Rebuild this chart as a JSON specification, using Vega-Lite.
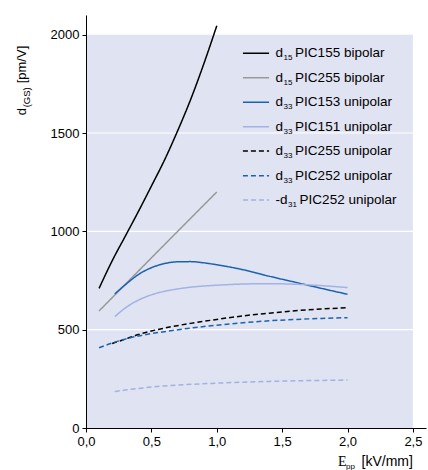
{
  "$schema": "https://vega.github.io/schema/vega-lite/v6.json",
  "width": 340,
  "height": 413,
  "autosize": {"type": "none"},
  "padding": {"left": 86, "top": 15, "right": 2, "bottom": 42},
  "background": "#ffffff",
  "config": {
    "view": {"stroke": null},
    "font": "Liberation Sans",
    "text": {"font": "Liberation Sans", "color": "#000000"}
  },
  "datasets": {
    "curves": [
      {"series": "d15 PIC155 bipolar", "x": 0.1, "y": 710},
      {"series": "d15 PIC155 bipolar", "x": 0.2, "y": 850},
      {"series": "d15 PIC155 bipolar", "x": 0.3, "y": 975},
      {"series": "d15 PIC155 bipolar", "x": 0.4, "y": 1100},
      {"series": "d15 PIC155 bipolar", "x": 0.5, "y": 1230},
      {"series": "d15 PIC155 bipolar", "x": 0.6, "y": 1362},
      {"series": "d15 PIC155 bipolar", "x": 0.7, "y": 1510},
      {"series": "d15 PIC155 bipolar", "x": 0.8, "y": 1670},
      {"series": "d15 PIC155 bipolar", "x": 0.9, "y": 1850},
      {"series": "d15 PIC155 bipolar", "x": 1.0, "y": 2045},

      {"series": "d15 PIC255 bipolar", "x": 0.1, "y": 595},
      {"series": "d15 PIC255 bipolar", "x": 0.5, "y": 865},
      {"series": "d15 PIC255 bipolar", "x": 1.0, "y": 1200},

      {"series": "d33 PIC153 unipolar", "x": 0.22, "y": 682},
      {"series": "d33 PIC153 unipolar", "x": 0.3, "y": 728},
      {"series": "d33 PIC153 unipolar", "x": 0.4, "y": 780},
      {"series": "d33 PIC153 unipolar", "x": 0.5, "y": 815},
      {"series": "d33 PIC153 unipolar", "x": 0.6, "y": 836},
      {"series": "d33 PIC153 unipolar", "x": 0.7, "y": 845},
      {"series": "d33 PIC153 unipolar", "x": 0.8, "y": 846},
      {"series": "d33 PIC153 unipolar", "x": 0.9, "y": 840},
      {"series": "d33 PIC153 unipolar", "x": 1.0, "y": 830},
      {"series": "d33 PIC153 unipolar", "x": 1.2, "y": 805},
      {"series": "d33 PIC153 unipolar", "x": 1.4, "y": 772},
      {"series": "d33 PIC153 unipolar", "x": 1.6, "y": 741},
      {"series": "d33 PIC153 unipolar", "x": 1.8, "y": 710},
      {"series": "d33 PIC153 unipolar", "x": 2.0, "y": 680},

      {"series": "d33 PIC151 unipolar", "x": 0.22, "y": 566},
      {"series": "d33 PIC151 unipolar", "x": 0.3, "y": 610},
      {"series": "d33 PIC151 unipolar", "x": 0.4, "y": 650},
      {"series": "d33 PIC151 unipolar", "x": 0.5, "y": 677},
      {"series": "d33 PIC151 unipolar", "x": 0.6, "y": 695},
      {"series": "d33 PIC151 unipolar", "x": 0.7, "y": 707},
      {"series": "d33 PIC151 unipolar", "x": 0.8, "y": 716},
      {"series": "d33 PIC151 unipolar", "x": 1.0, "y": 726},
      {"series": "d33 PIC151 unipolar", "x": 1.2, "y": 732},
      {"series": "d33 PIC151 unipolar", "x": 1.4, "y": 734},
      {"series": "d33 PIC151 unipolar", "x": 1.6, "y": 731},
      {"series": "d33 PIC151 unipolar", "x": 1.8, "y": 724},
      {"series": "d33 PIC151 unipolar", "x": 2.0, "y": 714},

      {"series": "d33 PIC255 unipolar", "x": 0.2, "y": 430},
      {"series": "d33 PIC255 unipolar", "x": 0.3, "y": 452},
      {"series": "d33 PIC255 unipolar", "x": 0.4, "y": 475},
      {"series": "d33 PIC255 unipolar", "x": 0.5, "y": 493},
      {"series": "d33 PIC255 unipolar", "x": 0.6, "y": 508},
      {"series": "d33 PIC255 unipolar", "x": 0.8, "y": 532},
      {"series": "d33 PIC255 unipolar", "x": 1.0, "y": 552},
      {"series": "d33 PIC255 unipolar", "x": 1.2, "y": 570},
      {"series": "d33 PIC255 unipolar", "x": 1.4, "y": 584},
      {"series": "d33 PIC255 unipolar", "x": 1.6, "y": 596},
      {"series": "d33 PIC255 unipolar", "x": 1.8, "y": 605},
      {"series": "d33 PIC255 unipolar", "x": 2.0, "y": 612},

      {"series": "d33 PIC252 unipolar", "x": 0.1, "y": 408},
      {"series": "d33 PIC252 unipolar", "x": 0.2, "y": 432},
      {"series": "d33 PIC252 unipolar", "x": 0.3, "y": 452},
      {"series": "d33 PIC252 unipolar", "x": 0.4, "y": 468},
      {"series": "d33 PIC252 unipolar", "x": 0.5, "y": 480},
      {"series": "d33 PIC252 unipolar", "x": 0.6, "y": 490},
      {"series": "d33 PIC252 unipolar", "x": 0.8, "y": 508},
      {"series": "d33 PIC252 unipolar", "x": 1.0, "y": 523},
      {"series": "d33 PIC252 unipolar", "x": 1.2, "y": 535},
      {"series": "d33 PIC252 unipolar", "x": 1.4, "y": 545},
      {"series": "d33 PIC252 unipolar", "x": 1.6, "y": 552},
      {"series": "d33 PIC252 unipolar", "x": 1.8, "y": 557},
      {"series": "d33 PIC252 unipolar", "x": 2.0, "y": 561},

      {"series": "-d31 PIC252 unipolar", "x": 0.22, "y": 185},
      {"series": "-d31 PIC252 unipolar", "x": 0.3, "y": 193},
      {"series": "-d31 PIC252 unipolar", "x": 0.4, "y": 201},
      {"series": "-d31 PIC252 unipolar", "x": 0.5, "y": 208},
      {"series": "-d31 PIC252 unipolar", "x": 0.6, "y": 214},
      {"series": "-d31 PIC252 unipolar", "x": 0.8, "y": 222},
      {"series": "-d31 PIC252 unipolar", "x": 1.0, "y": 228},
      {"series": "-d31 PIC252 unipolar", "x": 1.2, "y": 233},
      {"series": "-d31 PIC252 unipolar", "x": 1.4, "y": 237},
      {"series": "-d31 PIC252 unipolar", "x": 1.6, "y": 240},
      {"series": "-d31 PIC252 unipolar", "x": 1.8, "y": 242},
      {"series": "-d31 PIC252 unipolar", "x": 2.0, "y": 244}
    ],
    "legend": [
      {"series": "d15 PIC155 bipolar", "y": 1905, "pre": "d", "sub": "15", "rest": "PIC155 bipolar"},
      {"series": "d15 PIC255 bipolar", "y": 1781, "pre": "d", "sub": "15", "rest": "PIC255 bipolar"},
      {"series": "d33 PIC153 unipolar", "y": 1656, "pre": "d", "sub": "33", "rest": "PIC153 unipolar"},
      {"series": "d33 PIC151 unipolar", "y": 1532, "pre": "d", "sub": "33", "rest": "PIC151 unipolar"},
      {"series": "d33 PIC255 unipolar", "y": 1408, "pre": "d", "sub": "33", "rest": "PIC255 unipolar"},
      {"series": "d33 PIC252 unipolar", "y": 1283, "pre": "d", "sub": "33", "rest": "PIC252 unipolar"},
      {"series": "-d31 PIC252 unipolar", "y": 1159, "pre": "-d", "sub": "31", "rest": "PIC252 unipolar"}
    ],
    "grid": [{"g": 500}, {"g": 1000}, {"g": 1500}]
  },
  "layer": [
    {
      "description": "plot background panel",
      "data": {"values": [{}]},
      "mark": {"type": "rect", "color": "#e0e3f2"},
      "encoding": {
        "x": {"datum": 0, "type": "quantitative", "scale": {"domain": [0, 2.6]}},
        "x2": {"datum": 2.5},
        "y": {"datum": 0, "type": "quantitative", "scale": {"domain": [0, 2100]}},
        "y2": {"datum": 2000}
      }
    },
    {
      "description": "white grid lines",
      "data": {"name": "grid"},
      "mark": {"type": "rule", "color": "#ffffff", "strokeWidth": 1.2},
      "encoding": {
        "y": {"field": "g", "type": "quantitative"},
        "x": {"datum": 0, "type": "quantitative"},
        "x2": {"datum": 2.5}
      }
    },
    {
      "data": {"name": "curves"},
      "mark": {"type": "line", "interpolate": "monotone", "strokeWidth": 1.5},
      "encoding": {
        "x": {
          "field": "x", "type": "quantitative",
          "scale": {"domain": [0, 2.6], "nice": false},
          "axis": {
            "values": [0, 0.5, 1, 1.5, 2, 2.5],
            "labelExpr": "replace(format(datum.value, '.1f'), '.', ',')",
            "title": null, "grid": false, "zindex": 1,
            "domainColor": "#000000", "tickColor": "#000000", "tickSize": 4,
            "labelFontSize": 13, "labelColor": "#000000", "labelPadding": 3,
            "labelFont": "Liberation Sans", "labelFlush": false
          }
        },
        "y": {
          "field": "y", "type": "quantitative",
          "scale": {"domain": [0, 2100], "nice": false},
          "axis": {
            "values": [0, 500, 1000, 1500, 2000],
            "format": "d",
            "title": null, "grid": false, "zindex": 1,
            "domainColor": "#000000", "tickColor": "#000000", "tickSize": 4,
            "labelFontSize": 13, "labelColor": "#000000", "labelPadding": 3,
            "labelFont": "Liberation Sans", "labelFlush": false
          }
        },
        "color": {
          "field": "series", "type": "nominal", "legend": null,
          "scale": {
            "domain": ["d15 PIC155 bipolar", "d15 PIC255 bipolar", "d33 PIC153 unipolar", "d33 PIC151 unipolar", "d33 PIC255 unipolar", "d33 PIC252 unipolar", "-d31 PIC252 unipolar"],
            "range": ["#000000", "#999999", "#1b63b0", "#a2b2e2", "#000000", "#1b63b0", "#a2b2e2"]
          }
        },
        "strokeDash": {
          "field": "series", "type": "nominal", "legend": null,
          "scale": {
            "domain": ["d15 PIC155 bipolar", "d15 PIC255 bipolar", "d33 PIC153 unipolar", "d33 PIC151 unipolar", "d33 PIC255 unipolar", "d33 PIC252 unipolar", "-d31 PIC252 unipolar"],
            "range": [[1, 0], [1, 0], [1, 0], [1, 0], [5, 3], [5, 3], [5, 3]]
          }
        }
      }
    },
    {
      "description": "legend samples",
      "data": {"name": "legend"},
      "mark": {"type": "rule", "strokeWidth": 1.5},
      "encoding": {
        "y": {"field": "y", "type": "quantitative"},
        "x": {"datum": 1.2, "type": "quantitative"},
        "x2": {"datum": 1.4},
        "color": {"field": "series", "type": "nominal", "legend": null},
        "strokeDash": {"field": "series", "type": "nominal", "legend": null}
      }
    },
    {
      "data": {"name": "legend"},
      "mark": {"type": "text", "align": "left", "baseline": "middle", "fontSize": 13.5},
      "encoding": {
        "y": {"field": "y", "type": "quantitative"},
        "x": {"datum": 1.45, "type": "quantitative"},
        "text": {"field": "pre"}
      }
    },
    {
      "data": {"name": "legend"},
      "transform": [{"filter": "datum.pre == 'd'"}],
      "mark": {"type": "text", "align": "left", "baseline": "middle", "fontSize": 8, "dx": 8, "dy": 5},
      "encoding": {
        "y": {"field": "y", "type": "quantitative"},
        "x": {"datum": 1.45, "type": "quantitative"},
        "text": {"field": "sub"}
      }
    },
    {
      "data": {"name": "legend"},
      "transform": [{"filter": "datum.pre == '-d'"}],
      "mark": {"type": "text", "align": "left", "baseline": "middle", "fontSize": 8, "dx": 12.5, "dy": 5},
      "encoding": {
        "y": {"field": "y", "type": "quantitative"},
        "x": {"datum": 1.45, "type": "quantitative"},
        "text": {"field": "sub"}
      }
    },
    {
      "data": {"name": "legend"},
      "transform": [{"filter": "datum.pre == 'd'"}],
      "mark": {"type": "text", "align": "left", "baseline": "middle", "fontSize": 13.5, "dx": 19.5},
      "encoding": {
        "y": {"field": "y", "type": "quantitative"},
        "x": {"datum": 1.45, "type": "quantitative"},
        "text": {"field": "rest"}
      }
    },
    {
      "data": {"name": "legend"},
      "transform": [{"filter": "datum.pre == '-d'"}],
      "mark": {"type": "text", "align": "left", "baseline": "middle", "fontSize": 13.5, "dx": 24},
      "encoding": {
        "y": {"field": "y", "type": "quantitative"},
        "x": {"datum": 1.45, "type": "quantitative"},
        "text": {"field": "rest"}
      }
    },
    {
      "description": "y axis title: d(GS) [pm/V]",
      "data": {"values": [{"part": "d"}]},
      "mark": {"type": "text", "align": "left", "baseline": "alphabetic", "angle": 270, "fontSize": 13},
      "encoding": {
        "x": {"datum": -0.459, "type": "quantitative"},
        "y": {"datum": 1590, "type": "quantitative"},
        "text": {"field": "part"}
      }
    },
    {
      "data": {"values": [{"part": "(GS)"}]},
      "mark": {"type": "text", "align": "left", "baseline": "alphabetic", "angle": 270, "fontSize": 9.5, "dx": 8, "dy": 4},
      "encoding": {
        "x": {"datum": -0.459, "type": "quantitative"},
        "y": {"datum": 1590, "type": "quantitative"},
        "text": {"field": "part"}
      }
    },
    {
      "data": {"values": [{"part": "[pm/V]"}]},
      "mark": {"type": "text", "align": "left", "baseline": "alphabetic", "angle": 270, "fontSize": 13, "dx": 32},
      "encoding": {
        "x": {"datum": -0.459, "type": "quantitative"},
        "y": {"datum": 1590, "type": "quantitative"},
        "text": {"field": "part"}
      }
    },
    {
      "description": "x axis title: E_pp [kV/mm]",
      "data": {"values": [{"part": "E"}]},
      "mark": {"type": "text", "align": "left", "baseline": "alphabetic", "fontSize": 14, "font": "Liberation Serif"},
      "encoding": {
        "x": {"datum": 1.927, "type": "quantitative"},
        "y": {"datum": -193, "type": "quantitative"},
        "text": {"field": "part"}
      }
    },
    {
      "data": {"values": [{"part": "pp"}]},
      "mark": {"type": "text", "align": "left", "baseline": "alphabetic", "fontSize": 8, "dx": 8, "dy": 3},
      "encoding": {
        "x": {"datum": 1.927, "type": "quantitative"},
        "y": {"datum": -193, "type": "quantitative"},
        "text": {"field": "part"}
      }
    },
    {
      "data": {"values": [{"part": "[kV/mm]"}]},
      "mark": {"type": "text", "align": "right", "baseline": "alphabetic", "fontSize": 14},
      "encoding": {
        "x": {"datum": 2.5, "type": "quantitative"},
        "y": {"datum": -193, "type": "quantitative"},
        "text": {"field": "part"}
      }
    }
  ]
}
